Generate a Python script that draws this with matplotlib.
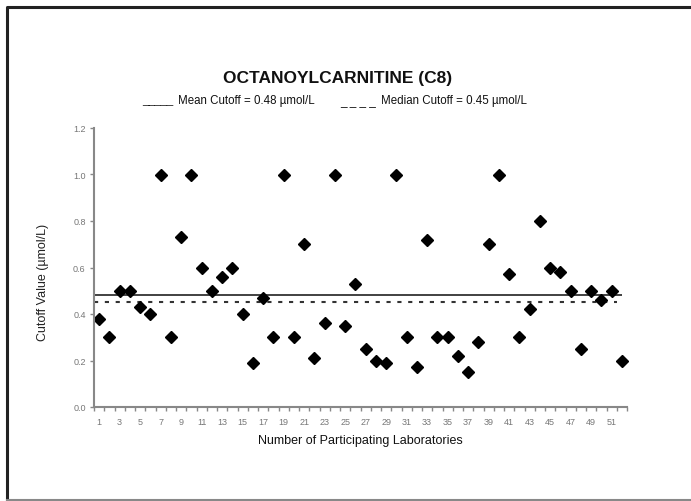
"""Scatter of C8 cutoff values reported by participating laboratories."""

import numpy as np
import matplotlib.pyplot as plt
from matplotlib.lines import Line2D
from matplotlib.ticker import FormatStrFormatter, MultipleLocator

plt.rcParams['font.family'] = ['Liberation Sans', 'DejaVu Sans']

# data
labs = np.arange(1, 53)
cutoffs = [0.38, 0.30, 0.50, 0.50, 0.43, 0.40, 1.00, 0.30, 0.73, 1.00,
           0.60, 0.50, 0.56, 0.60, 0.40, 0.19, 0.47, 0.30, 1.00, 0.30,
           0.70, 0.21, 0.36, 1.00, 0.35, 0.53, 0.25, 0.20, 0.19, 1.00,
           0.30, 0.17, 0.72, 0.30, 0.30, 0.22, 0.15, 0.28, 0.70, 1.00,
           0.57, 0.30, 0.42, 0.80, 0.60, 0.58, 0.50, 0.25, 0.50, 0.46,
           0.50, 0.20]
mean_cutoff = 0.48
median_cutoff = 0.45
title = "OCTANOYLCARNITINE (C8)"
mean_text = f"Mean Cutoff = {mean_cutoff:.2f} \u00b5mol/L"
median_text = f"Median Cutoff = {median_cutoff:.2f} \u00b5mol/L"

W, H = 691, 502
fig = plt.figure(figsize=(W / 100, H / 100), dpi=100)

# page frame: dark left/top edge, light bottom edge
fig.add_artist(Line2D([7 / W, 7 / W, 1.0], [0, 1 - 8 / H, 1 - 8 / H],
                      transform=fig.transFigure, color='#222222', lw=2.2))
fig.add_artist(Line2D([7 / W, 1.0], [0.7 / H, 0.7 / H],
                      transform=fig.transFigure, color='#888888', lw=1.5))

ax = fig.add_axes([94 / W, (H - 408) / H, (627 - 94) / W, (408 - 129) / H])

ax.hlines(mean_cutoff, labs[0] - 0.5, labs[-1], color='#333333', lw=1.3)
ax.hlines(median_cutoff, labs[0] - 0.5, labs[-1] - 0.5, color='#333333',
          lw=1.5, linestyles=(0, (2, 3.2)))
ax.plot(labs, cutoffs, 'D', color='black', markersize=5.8, clip_on=False)

ax.set_xlim(labs[0] - 0.5, labs[-1] + 0.5)
ax.set_ylim(0, 1.2)
ax.set_xticks(labs[::2])
ax.xaxis.set_minor_locator(MultipleLocator(1, offset=0.5))
ax.yaxis.set_major_locator(MultipleLocator(0.2))
ax.yaxis.set_major_formatter(FormatStrFormatter('%.1f'))

ax.tick_params(axis='x', which='major', length=0, labelsize=6.5,
               labelcolor='#777777', pad=7)
ax.tick_params(axis='x', which='minor', length=3, color='#888888', width=1)
ax.tick_params(axis='y', length=3, color='#888888', width=1, labelsize=6.5,
               labelcolor='#777777', pad=3)

for side in ('top', 'right'):
    ax.spines[side].set_visible(False)
for side in ('left', 'bottom'):
    ax.spines[side].set_color('#888888')
    ax.spines[side].set_linewidth(1.5)

ax.set_xlabel("Number of Participating Laboratories", fontsize=9,
              color='#111111', labelpad=6)
ax.set_ylabel("Cutoff Value (\u00b5mol/L)", fontsize=9, color='#222222',
              labelpad=14)
ax.yaxis.set_label_coords(-0.085, 0.45)

fig.text(338 / W, 1 - 78 / H, title, ha='center', va='center',
         fontsize=12.5, fontweight='bold', color='#111111')

# legend written out as text, underscores standing in for the line samples
legend_y = 1 - 101 / H
fig.text(142 / W, legend_y, "_____", ha='left', va='center', fontsize=8,
         color='#111111')
fig.text(178 / W, legend_y, mean_text, ha='left', va='center', fontsize=8.3,
         color='#111111')
fig.text(340 / W, legend_y, "_ _ _ _", ha='left', va='center', fontsize=8.5,
         color='#111111')
fig.text(381 / W, legend_y, median_text, ha='left', va='center',
         fontsize=8.3, color='#111111')

fig.savefig('out.png', dpi=100)
